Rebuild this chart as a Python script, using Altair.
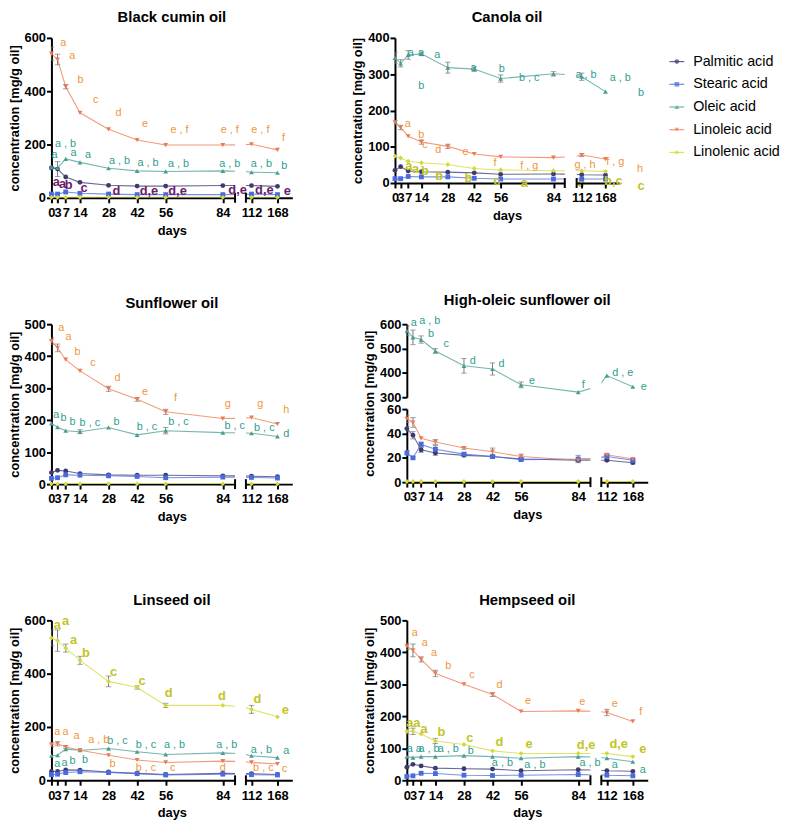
import altair as alt
import pandas as pd

# ------------------------------------------------------------------ data
DAYS = [0, 3, 7, 14, 28, 42, 56, 84, 112, 168]
LEFT_TICKS = [0, 3, 7, 14, 28, 42, 56, 84]
RIGHT_TICKS = [112, 168]
SERIES = ["Palmitic acid", "Stearic acid", "Oleic acid", "Linoleic acid", "Linolenic acid"]

# Black cumin oil
bc_values = {
    "Palmitic acid": [112, 108, 78, 58, 47, 44, 44, 46, 46, 43],
    "Stearic acid": [14, 14, 22, 17, 14, 12, 12, 12, 14, 12],
    "Oleic acid": [115, 112, 146, 133, 111, 101, 99, 101, 96, 94],
    "Linoleic acid": [541, 519, 417, 319, 257, 217, 198, 198, 201, 180],
    "Linolenic acid": [2, 2, 2, 2, 2, 2, 2, 2, 2, 2],
}
bc_errors = {
    "Palmitic acid": [0, 28, 0, 0, 0, 0, 0, 0, 0, 0],
    "Linoleic acid": [25, 20, 8, 0, 0, 0, 0, 0, 0, 0],
}
bc_letters = {
    "Linoleic acid": ["a", "a", "b", "c", "d", "e", "e,f", "e,f", "e,f", "f"],
    "Oleic acid": ["a", "a,b", "a", "a", "a,b", "a,b", "a,b", "a,b", "a,b", "b"],
    "Palmitic acid": ["a", "a", "b", "c", "d", "d,e", "d,e", "d,e", "d,e", "e"],
}

# Canola oil
ca_values = {
    "Palmitic acid": [35, 45, 33, 31, 30, 28, 24, 25, 23, 22],
    "Stearic acid": [12, 12, 18, 17, 17, 13, 11, 11, 11, 11],
    "Oleic acid": [345, 330, 353, 356, 318, 314, 288, 301, 293, 252],
    "Linoleic acid": [167, 153, 129, 113, 101, 80, 72, 70, 77, 66],
    "Linolenic acid": [74, 69, 60, 56, 51, 40, 36, 34, 34, 32],
}
ca_errors = {
    "Oleic acid": [15, 10, 12, 5, 15, 6, 10, 6, 10, 0],
    "Linoleic acid": [5, 6, 0, 6, 6, 0, 0, 0, 4, 0],
}
ca_letters = {
    "Oleic acid": ["a", "b", "a", "a", "a", "b", "b,c", "a,b", "a,b", "b"],
    "Linoleic acid": ["a", "b", "c", "d", "e", "f", "f,g", "g,h", "f,g", "h"],
    "Linolenic acid": ["a", "a", "b", "b", "b", "c", "a", "e", "b,c", "c"],
}

# Sunflower oil
sf_values = {
    "Palmitic acid": [36, 43, 41, 33, 29, 28, 28, 26, 25, 23],
    "Stearic acid": [18, 20, 29, 28, 26, 24, 20, 22, 21, 19],
    "Oleic acid": [190, 178, 167, 164, 177, 154, 167, 161, 159, 149],
    "Linoleic acid": [447, 426, 389, 354, 298, 265, 226, 205, 208, 188],
    "Linolenic acid": [1, 1, 1, 1, 1, 1, 1, 1, 1, 1],
}
sf_errors = {
    "Oleic acid": [0, 0, 0, 6, 0, 0, 10, 0, 0, 0],
    "Linoleic acid": [10, 12, 0, 0, 8, 6, 8, 0, 0, 0],
}
sf_letters = {
    "Linoleic acid": ["a", "a", "b", "c", "d", "e", "f", "g", "g", "h"],
    "Oleic acid": ["a", "b", "b", "b,c", "b", "b,c", "b,c", "b,c", "b,c", "d"],
}

# High-oleic sunflower oil
ho_values = {
    "Palmitic acid": [44, 38.5, 26.5, 24, 22, 21, 19, 18, 18, 16],
    "Stearic acid": [24, 20, 31, 27, 23, 21, 18.5, 19, 21, 18],
    "Oleic acid": [573, 546, 537, 490, 429, 416, 351, 321, 389, 343],
    "Linoleic acid": [52, 49, 36, 33, 28, 25, 21, 18, 22.5, 19],
    "Linolenic acid": [0.5, 0.5, 0.5, 0.5, 0.5, 0.5, 0.5, 0.5, 0.5, 0.5],
}
ho_errors = {
    "Oleic acid": [20, 30, 15, 10, 30, 25, 12, 0, 0, 0],
    "Linoleic acid": [3, 4, 0, 2, 1, 3, 2, 1, 1, 0],
    "Palmitic acid": [2, 3, 2, 2, 1, 1, 1, 1, 1, 1],
    "Stearic acid": [2, 1, 2, 3, 1, 1, 1, 3, 2, 1],
}
ho_letters = {
    "Oleic acid": ["a", "a,b", "b", "c", "d", "d", "e", "f", "d,e", "e"],
}

# Linseed oil
ls_values = {
    "Palmitic acid": [33, 33, 39, 38, 31, 26, 22, 26, 25, 22],
    "Stearic acid": [21, 23, 29, 32, 29, 25, 20, 23, 21, 20],
    "Oleic acid": [92, 94, 117, 113, 119, 107, 97, 103, 92, 85],
    "Linoleic acid": [134, 137, 125, 113, 94, 76, 67, 72, 67, 61],
    "Linolenic acid": [534, 524, 496, 450, 371, 348, 281, 281, 266, 238],
}
ls_errors = {
    "Linolenic acid": [30, 40, 15, 15, 20, 6, 8, 0, 15, 0],
    "Linoleic acid": [8, 8, 5, 0, 0, 0, 0, 0, 0, 0],
}
ls_letters = {
    "Linolenic acid": ["a", "a", "a", "b", "c", "c", "d", "d", "d", "e"],
    "Linoleic acid": ["a", "a", "a", "a,b", "b", "b,c", "c", "d", "b,c", "c"],
    "Oleic acid": ["a", "a", "b", "b", "b,c", "b,c", "a,b", "a,b", "a,b", "a"],
}

# Hempseed oil
hs_values = {
    "Palmitic acid": [41, 50, 45, 38, 36, 35, 30, 33, 30, 28],
    "Stearic acid": [12, 14, 22, 21, 16, 15, 16, 18, 16, 14],
    "Oleic acid": [74, 71, 74, 74, 77, 74, 69, 74, 69, 58],
    "Linoleic acid": [419, 406, 378, 334, 300, 268, 215, 217, 212, 184],
    "Linolenic acid": [153, 153, 145, 123, 112, 92, 84, 84, 84, 74],
}
hs_errors = {
    "Linoleic acid": [10, 20, 8, 10, 0, 6, 0, 0, 10, 0],
    "Linolenic acid": [8, 10, 0, 8, 0, 0, 0, 0, 0, 0],
}
hs_letters = {
    "Linoleic acid": ["a", "a", "a", "b", "c", "d", "e", "e", "e", "f"],
    "Linolenic acid": ["a", "a", "a", "b", "c", "d", "e", "d,e", "d,e", "e"],
    "Oleic acid": ["a", "a", "a,b", "a,b", "b", "a,b", "a,b", "a,b", "a", "a"],
}

# ------------------------------------------------------------------ style
FONT = "Liberation Sans"
MARKER_COLORS = ["#3c3a70", "#4a6be0", "#4a9e94", "#ec7a52", "#d3d93a"]
SHAPES = ["circle", "square", "triangle-up", "triangle-down", "diamond"]
ERR_COLOR = "#7a7a7a"
LETTER_STYLE = {
    "Palmitic acid": dict(color="#6a1d6c", fontSize=13, fontWeight="bold"),
    "Oleic acid": dict(color="#2f9d92", fontSize=11, fontWeight="normal"),
    "Linoleic acid": dict(color="#f0953c", fontSize=11, fontWeight="normal"),
    "Linolenic acid": dict(color="#c2c425", fontSize=13, fontWeight="bold"),
}
SPACED = {"Oleic acid", "Linoleic acid"}

# pixel offsets of the significance letters from their points (dx list, dy list)
bc_offsets = {
    "Linoleic acid": ([12, 15, 15, 16, 10, 8, 14, 7, 9, 6], [-11, -4, -7, -13, -17, -16, -15, -15, -14, -12]),
    "Oleic acid": ([3, 8, 8, 8, 11, 11, 13, 7, 10, 7], [-12, -24, -6, -7, -7, -8, -7, -7, -8, -7]),
    "Palmitic acid": ([5, 5, 3, 4, 8, 12, 12, 15, 13, 10], [14, 15, 8, 6, 6, 5, 5, 5, 5, 5]),
}
ca_offsets = {
    "Oleic acid": ([16, 21, 13, 16, 26, 28, 29, 33, 39, 36], [-5, 23, -2, 1, 0, 0, -1, 1, 1, 1]),
    "Linoleic acid": ([13, 21, 17, 17, 18, 21, 29, 32, 34, 35], [2, 8, 9, 8, 6, 9, 9, 8, 7, 10]),
    "Linolenic acid": ([14, 15, 17, 18, 21, 23, 24, 28, 32, 36], [10, 11, 10, 14, 14, 13, 13, 13, 10, 15]),
}
sf_offsets = {
    "Linoleic acid": ([10, 11, 12, 13, 9, 8, 10, 5, 9, 9], [-13, -11, -8, -8, -11, -7, -14, -15, -14, -14]),
    "Oleic acid": ([5, 6, 7, 10, 8, 10, 13, 12, 13, 9], [-8, -9, -9, -9, -6, -8, -9, -7, -5, -2]),
}
ho_offsets = {
    "Oleic acid": ([7, 17, 10, 11, 9, 9, 11, 5, 16, 11], [-8, -17, -6, -7, -5, -5, -4, -7, -3, 0]),
}
ls_offsets = {
    "Linolenic acid": ([6, 8, 8, 6, 5, 5, 3, -1, 6, 8], [-13, -20, -8, -7, -9, -7, -12, -9, -10, -7]),
    "Linoleic acid": ([6, 8, 11, 19, 4, 9, 7, 0, 12, 7], [-13, -12, -11, -10, 9, 8, 6, 7, 6, 5]),
    "Oleic acid": ([6, 7, 7, 5, 9, 9, 9, 4, 10, 9], [8, 8, 12, 10, -8, -7, -10, -8, -6, -7]),
}
hs_offsets = {
    "Linoleic acid": ([8, 12, 13, 13, 8, 7, 7, 4, 8, 8], [-13, -7, -6, -8, -9, -10, -11, -9, -9, -10]),
    "Linolenic acid": ([3, 4, 3, 6, 6, 7, 8, 8, 12, 10], [-8, -8, -5, -9, -7, -9, -9, -8, -9, -8]),
    "Oleic acid": ([3, 6, 8, 13, 7, 10, 14, 12, 8, 10], [-8, -9, -8, -8, -5, 6, 7, 7, 7, 8]),
}

COLOR = alt.Color("series:N", scale=alt.Scale(domain=SERIES, range=MARKER_COLORS), legend=None)
SHAPE = alt.Shape("series:N", scale=alt.Scale(domain=SERIES, range=SHAPES), legend=None)
XDOM_L = [0, 90]
XDOM_R = [100, 200]
CAP_DF = pd.DataFrame({"k": [0]})


def panel_df(vals, errs):
    rows = []
    for s in SERIES:
        e_list = errs.get(s)
        for i, (d, v) in enumerate(zip(DAYS, vals[s])):
            e = e_list[i] if e_list else 0
            rows.append(dict(series=s, day=d, value=v, lo=v - e, hi=v + e, err=e))
    return pd.DataFrame(rows)


def letters_df(vals, letters, offsets, xdom, w, ydom, h):
    rows = []
    xs = (xdom[1] - xdom[0]) / w
    ys = (ydom[1] - ydom[0]) / h
    for s, labs in letters.items():
        dxs, dys = offsets[s]
        for d, v, t, dx, dy in zip(DAYS, vals[s], labs, dxs, dys):
            if not t:
                continue
            if not (xdom[0] <= d <= xdom[1] and ydom[0] <= v <= ydom[1]):
                continue
            lab = t.replace(",", " , ") if s in SPACED else t
            rows.append(dict(series=s, lday=d + dx * xs, lval=v - dy * ys, label=lab))
    return pd.DataFrame(rows, columns=["series", "lday", "lval", "label"])


def segment(df, vals, letters, offsets, side, w, h, ydom, yticks, total_w,
            show_x=True, ytitle=None, ytitle_y=None):
    xdom = XDOM_L if side == "L" else XDOM_R
    if show_x:
        ax_kw = dict(values=LEFT_TICKS if side == "L" else RIGHT_TICKS,
                     labelFlush=False, labelOverlap=False, labelPadding=4)
        if side == "L":
            ax_kw.update(title="days", titleX=total_w / 2, titlePadding=5)
        else:
            ax_kw.update(title=None)
        xaxis = alt.Axis(**ax_kw)
    else:
        xaxis = None
    if side == "L":
        y_kw = dict(values=yticks, labelPadding=1, titlePadding=3)
        if ytitle:
            y_kw["title"] = ytitle
            if ytitle_y is not None:
                y_kw["titleY"] = ytitle_y
        else:
            y_kw["title"] = None
        yaxis = alt.Axis(**y_kw)
    else:
        yaxis = None

    xsc = alt.Scale(domain=xdom, nice=False, zero=False)
    ysc = alt.Scale(domain=ydom, nice=False, zero=False)

    def X(f):
        return alt.X(f, type="quantitative", scale=xsc, axis=xaxis)

    def Y(f):
        return alt.Y(f, type="quantitative", scale=ysc, axis=yaxis)

    if side == "L":
        line_df = df[df.day <= 112]
    else:
        line_df = df[df.day >= 84]
    inside = df[(df.day >= xdom[0]) & (df.day <= xdom[1]) & (df.value >= ydom[0]) & (df.value <= ydom[1])]
    errd = inside[inside.err > 0]

    layers = []
    layers.append(alt.Chart(line_df).mark_line(clip=True, strokeWidth=1.1, opacity=0.75).encode(
        x=X("day"), y=Y("value"), color=COLOR))
    if len(errd):
        layers.append(alt.Chart(errd).mark_rule(color=ERR_COLOR, strokeWidth=1, clip=True).encode(
            x=X("day"), y=Y("lo"), y2=alt.Y2("hi")))
        for f in ("lo", "hi"):
            layers.append(alt.Chart(errd).mark_point(shape="M-1,0L1,0", size=30, filled=False,
                                                     color=ERR_COLOR, strokeWidth=1, clip=True).encode(
                x=X("day"), y=Y(f)))
    if show_x:
        layers.append(alt.Chart(CAP_DF).mark_rule(color="black", strokeWidth=2).encode(
            x=alt.value(w if side == "L" else 0), y=alt.value(h - 5), y2=alt.value(h + 5)))
    layers.append(alt.Chart(inside).mark_point(filled=True, size=24, opacity=1).encode(
        x=X("day"), y=Y("value"), color=COLOR, shape=SHAPE))
    ldf = letters_df(vals, letters, offsets, xdom, w, ydom, h)
    for s in SERIES:
        sub = ldf[ldf.series == s]
        if len(sub) == 0:
            continue
        st = LETTER_STYLE[s]
        layers.append(alt.Chart(sub).mark_text(align="center", baseline="middle", font=FONT, **st).encode(
            x=X("lday"), y=Y("lval"), text="label:N"))
    return alt.layer(*layers).properties(width=w, height=h)


def ptitle(text, dx):
    return alt.Title(text, anchor="middle", frame="group", dx=dx, fontSize=15,
                     font=FONT, fontWeight="bold", color="black", offset=7)


def panel(title, vals, errs, letters, offsets, w1, w2, sp, h, ydom, yticks):
    df = panel_df(vals, errs)
    tw = w1 + sp + w2
    L = segment(df, vals, letters, offsets, "L", w1, h, ydom, yticks, tw, ytitle="concentration [mg/g oil]")
    R = segment(df, vals, letters, offsets, "R", w2, h, ydom, yticks, tw)
    return alt.hconcat(L, R, spacing=sp, bounds="flush", title=ptitle(title, tw / 2))


def broken_panel(title, vals, errs, letters, offsets, w1, w2, sp, h_top, h_bot, gap,
                 ydom_top, yticks_top, ydom_bot, yticks_bot):
    df = panel_df(vals, errs)
    tw = w1 + sp + w2
    TL = segment(df, vals, letters, offsets, "L", w1, h_top, ydom_top, yticks_top, tw, show_x=False,
                 ytitle="concentration [mg/g oil]", ytitle_y=(h_top + gap + h_bot) / 2)
    TR = segment(df, vals, letters, offsets, "R", w2, h_top, ydom_top, yticks_top, tw, show_x=False)
    BL = segment(df, vals, letters, offsets, "L", w1, h_bot, ydom_bot, yticks_bot, tw)
    BR = segment(df, vals, letters, offsets, "R", w2, h_bot, ydom_bot, yticks_bot, tw)
    return alt.concat(TL, TR, BL, BR, columns=2, spacing={"row": gap, "column": sp},
                      bounds="flush", title=ptitle(title, tw / 2))


W1, W2, SP, H = 186, 47, 11, 162

bc = panel("Black cumin oil", bc_values, bc_errors, bc_letters, bc_offsets, W1, W2, SP, H,
           [0, 600], [0, 200, 400, 600])
ca = panel("Canola oil", ca_values, ca_errors, ca_letters, ca_offsets, 172, 43, 12, 147,
           [0, 400], [0, 100, 200, 300, 400])
sf = panel("Sunflower oil", sf_values, sf_errors, sf_letters, sf_offsets, W1, W2, SP, H,
           [0, 500], [0, 100, 200, 300, 400, 500])
ho = broken_panel("High-oleic sunflower oil", ho_values, ho_errors, ho_letters, ho_offsets, W1, W2, SP,
                  74, 74, 12, [300, 600], [300, 400, 500, 600], [0, 60], [0, 20, 40, 60])
ls = panel("Linseed oil", ls_values, ls_errors, ls_letters, ls_offsets, W1, W2, SP, H,
           [0, 600], [0, 200, 400, 600])
hs = panel("Hempseed oil", hs_values, hs_errors, hs_letters, hs_offsets, W1, W2, SP, H,
           [0, 500], [0, 100, 200, 300, 400, 500])

# legend built from the series list
LEG_Y0, LEG_STEP = 24, 23
leg_base = alt.Chart(pd.DataFrame({"series": SERIES}))
LY = alt.Y("series:N", sort=SERIES,
           scale=alt.Scale(type="point", domain=SERIES, range=[LEG_Y0, LEG_Y0 + 4 * LEG_STEP], padding=0),
           axis=None)
legend = alt.layer(
    leg_base.mark_rule(strokeWidth=1.2, opacity=0.8).encode(x=alt.value(0), x2=alt.value(15), y=LY, color=COLOR),
    leg_base.mark_point(filled=True, size=22).encode(x=alt.value(7.5), y=LY, color=COLOR, shape=SHAPE),
    leg_base.mark_text(align="left", baseline="middle", font=FONT, fontSize=14.5, color="black").encode(
        x=alt.value(24), y=LY, text="series:N"),
).properties(width=90, height=LEG_Y0 + 4 * LEG_STEP + 12)

row1 = alt.hconcat(alt.hconcat(bc, ca, spacing=60), legend, spacing=24)
row2 = alt.hconcat(sf, ho, spacing=72)
row3 = alt.hconcat(ls, hs, spacing=72)

chart = alt.vconcat(alt.vconcat(row1, row2, spacing=56), row3, spacing=70).properties(
    padding={"left": 0, "top": -3, "right": 0, "bottom": 0}
).configure_view(stroke=None).configure_axis(
    domainColor="black", domainWidth=2, tickColor="black", tickWidth=2, tickSize=5,
    labelFont=FONT, labelFontSize=13, labelFontWeight="bold", labelColor="black",
    titleFont=FONT, titleFontSize=13, titleFontWeight="bold", titleColor="black", grid=False
)

chart.save("out.html", embed_options={"renderer": "svg", "actions": False})
